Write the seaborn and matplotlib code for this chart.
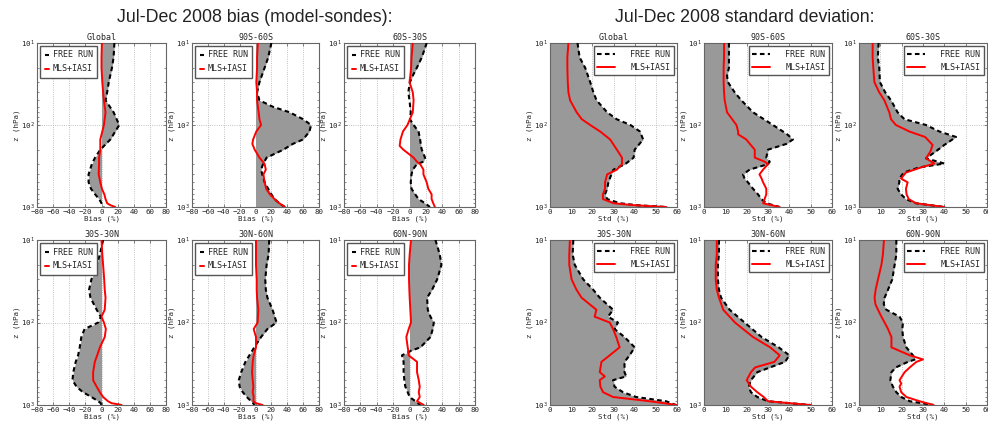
import numpy as np
import pandas as pd
import matplotlib
matplotlib.use("Agg")
import matplotlib.pyplot as plt
import seaborn as sns
from matplotlib.lines import Line2D

sns.set_style("ticks")
plt.rcParams['font.family'] = ['DejaVu Sans Mono']
plt.rcParams['mathtext.fontset'] = 'dejavusans'

# ---------------- DATA (pressure in hPa, values in %) ----------------
REGIONS = ["Global", "90S-60S", "60S-30S", "30S-30N", "30N-60N", "60N-90N"]

# Bias panels
P_BIAS_GLOBAL = [10, 15, 20, 30, 40, 50, 70, 100, 150, 200, 250, 300, 400, 500, 600, 700, 800, 900, 950, 1000]
FREE_BIAS_GLOBAL = [16, 15, 13, 9, 7, 5, 15, 22, 11, -1.5, -8, -12, -16, -16, -13, -8, -3, 0, 1, 3]
MLS_BIAS_GLOBAL = [0.5, 0, 0, 1, 2, 3, 5, 3, -1.5, -1.5, -3, -3, -3.5, -1.5, 0.5, 3.5, 5, 7, 11, 17]

P_BIAS_9060S = [10, 15, 20, 30, 40, 50, 60, 70, 85, 100, 120, 150, 170, 200, 250, 300, 350, 400, 500, 600, 700, 800, 900, 1000]
FREE_BIAS_9060S = [20, 16, 11.5, 5, 2, 5, 22, 43, 60, 70, 68, 60, 47, 35, 14, 9.5, 7, 8.5, 11.5, 16, 20, 24, 30, 37]
MLS_BIAS_9060S = [3, 2, 2, 1, 2, 2, 3, 4, 5, 7, 1, -3, -4, -1, 5, 11.5, 13, 10, 11.5, 13.5, 18, 24, 30, 37]

P_BIAS_6030S = [10, 15, 20, 25, 30, 40, 50, 70, 85, 100, 120, 150, 180, 200, 250, 280, 300, 350, 400, 500, 600, 700, 800, 900, 1000]
FREE_BIAS_6030S = [21, 15, 9, 4, 0.5, -1.5, 0, 1.5, 0.5, 5, 11, 13, 14, 15, 19, 17, 9, 4, 2.5, 1.5, 2.5, 7, 11, 19, 25]
MLS_BIAS_6030S = [4, 2.5, 2, 1, 0, 4, 5, 4, 0.5, -2.5, -8, -11, -12, -7.5, 5, 9, 13, 17, 17, 21, 23, 27, 27, 29, 31]

P_BIAS_3030 = [10, 15, 20, 30, 40, 50, 70, 85, 100, 120, 150, 200, 250, 300, 400, 500, 600, 700, 800, 900, 950, 1000]
FREE_BIAS_3030 = [2, -2, -6, -12.5, -15.4, -13.7, -6, -1, -4, -21, -25, -27, -29, -32, -35, -36, -31, -23, -12.5, -4, -1, 0]
MLS_BIAS_3030 = [0, 1, 2, 3.3, 4, 5, 4, 0, 3, 5.4, 4, -2, -5.4, -8.3, -10.4, -10.4, -6, -2, 2, 8, 12.5, 25]

P_BIAS_3060N = [10, 15, 20, 30, 40, 50, 70, 100, 120, 150, 200, 250, 300, 400, 500, 600, 700, 800, 900, 950, 1000]
FREE_BIAS_3060N = [17.3, 16.5, 14, 12.3, 13, 15, 21.5, 26.5, 15, 7, -1.5, -7.7, -12.7, -18, -21, -20, -16, -11, -5.6, -3, -1.5]
MLS_BIAS_3060N = [0.6, 0.6, 0.6, 1.5, 1.5, 2, 3.5, 2.7, -2.3, 0.6, 0.6, -2.3, -3.5, -4.4, -3.5, -2.7, -3.5, -2.3, -2.7, 0.6, 9]

P_BIAS_6090N = [10, 15, 20, 30, 40, 50, 70, 85, 100, 120, 150, 200, 220, 250, 300, 400, 500, 600, 700, 800, 900, 1000]
FREE_BIAS_6090N = [31.7, 37, 39, 33.8, 27.6, 21.5, 22.3, 25.6, 29.7, 28.4, 25.6, 13.3, 1.8, -9.2, -7.2, -7.2, -6.3, -5.1, -2.2, 0.2, 7.2, 13.3]
MLS_BIAS_6090N = [1.8, 0.2, -0.6, -0.6, -0.2, 0.2, 1, 1.5, 1.8, -1, -3.9, -2.2, -1.5, -1, 9.2, 9.2, 11.3, 12.5, 11.3, 12.5, 9.2, 17.4]

# Standard deviation panels
P_STD_GLOBAL = [10, 15, 20, 30, 40, 50, 70, 85, 100, 120, 150, 200, 250, 300, 350, 400, 500, 600, 700, 800, 900, 950, 1000]
FREE_STD_GLOBAL = [13, 14, 16.6, 19, 20.5, 22, 27, 31.5, 38, 42.5, 44, 40, 39.5, 35.5, 30, 29, 27.6, 27, 26, 27, 33, 41, 55]
MLS_STD_GLOBAL = [8.7, 8.2, 8.2, 8.4, 8.7, 9.5, 12.6, 15, 19, 23.7, 28.4, 31.6, 34, 34, 31.6, 27, 26, 26, 25, 25, 30, 39.5, 55]

P_STD_9060S = [10, 15, 20, 25, 30, 40, 50, 70, 100, 120, 130, 150, 170, 200, 250, 280, 300, 350, 400, 450, 500, 600, 700, 800, 900, 1000]
FREE_STD_9060S = [11.7, 11.7, 11.7, 10.8, 11.2, 14.4, 17.5, 23, 32.3, 37, 39, 41.7, 38.6, 30, 29.2, 30.8, 30, 21.4, 18.3, 19, 20.6, 23, 25.3, 26.9, 29.2, 35.5]
MLS_STD_9060S = [9.4, 9.4, 9.2, 9.2, 9.2, 9.4, 9.7, 10.8, 15.2, 16, 16, 19.8, 21.5, 23.8, 23.8, 28.4, 30, 27.7, 26, 27, 27.7, 29.2, 29.2, 28.4, 27.7, 35.5]

P_STD_6030S = [10, 15, 20, 30, 40, 50, 70, 85, 100, 120, 140, 175, 210, 255, 295, 330, 380, 450, 500, 600, 700, 800, 900, 1000]
FREE_STD_6030S = [9.2, 8.8, 9.5, 9.8, 12.3, 15, 18.1, 21.3, 31.4, 37.7, 45.5, 40, 36, 31.4, 40, 28, 21, 18.9, 18.9, 18.1, 19.7, 22, 26.7, 40]
MLS_STD_6030S = [6.4, 6.4, 6.7, 7.2, 9.5, 11.9, 14.2, 15, 17.3, 23.6, 31, 34.5, 33.5, 31.4, 35.3, 29, 22, 19.7, 22.8, 22, 22.3, 23.3, 26.7, 40]

P_STD_3030 = [10, 15, 20, 30, 40, 50, 70, 85, 100, 120, 150, 200, 250, 300, 400, 450, 500, 600, 700, 800, 900, 1000]
FREE_STD_3030 = [11, 10.7, 11.7, 15.7, 20.4, 23.5, 29.8, 27.4, 32.1, 30.5, 35.2, 40, 37.6, 35.2, 35.2, 36, 29.8, 30.5, 34.5, 40.7, 54.8, 59.5]
MLS_STD_3030 = [9.4, 9.1, 9.1, 10.2, 12.5, 14.9, 21.9, 21.1, 28.2, 29.8, 31.3, 32.9, 28.2, 24.3, 23.5, 25.9, 23.5, 23.8, 25.1, 29.8, 47, 60]

P_STD_3060N = [10, 15, 20, 30, 40, 50, 70, 100, 150, 200, 250, 300, 350, 400, 500, 600, 700, 800, 900, 1000]
FREE_STD_3060N = [7, 7, 6.5, 6.5, 7, 8, 12, 19, 27, 35, 40, 38, 31, 25, 22, 21, 22, 25, 30, 50]
MLS_STD_3060N = [6, 6, 5.5, 5.5, 6, 7, 9, 14.5, 23, 31, 35.5, 33, 24, 22, 20, 22, 25, 28, 30, 50]

P_STD_6090N = [10, 15, 20, 30, 40, 50, 60, 70, 85, 100, 120, 150, 200, 250, 280, 300, 350, 400, 500, 550, 600, 700, 800, 900, 1000]
FREE_STD_6090N = [17.5, 17.5, 16.7, 15.6, 13.6, 12, 11.6, 12.8, 19, 20.6, 20.3, 20.6, 22.2, 25.3, 26.4, 22.9, 17.3, 15.2, 14.7, 15.3, 15.9, 17.5, 19.8, 23.8, 35]
MLS_STD_6090N = [11.7, 11.2, 10.5, 8.9, 7.8, 7.3, 7.7, 8.9, 10.5, 12, 13.6, 15.2, 15.2, 23.8, 30, 26.9, 23.8, 21.4, 19, 19.8, 19, 19.8, 22.2, 28.4, 35]

BIAS_TICKS = [-80, -60, -40, -20, 0, 20, 40, 60, 80]
STD_TICKS = [0, 10, 20, 30, 40, 50, 60]

BIAS_DATA = [
    (P_BIAS_GLOBAL, FREE_BIAS_GLOBAL, MLS_BIAS_GLOBAL),
    (P_BIAS_9060S, FREE_BIAS_9060S, MLS_BIAS_9060S),
    (P_BIAS_6030S, FREE_BIAS_6030S, MLS_BIAS_6030S),
    (P_BIAS_3030, FREE_BIAS_3030, MLS_BIAS_3030),
    (P_BIAS_3060N, FREE_BIAS_3060N, MLS_BIAS_3060N),
    (P_BIAS_6090N, FREE_BIAS_6090N, MLS_BIAS_6090N),
]
STD_DATA = [
    (P_STD_GLOBAL, FREE_STD_GLOBAL, MLS_STD_GLOBAL),
    (P_STD_9060S, FREE_STD_9060S, MLS_STD_9060S),
    (P_STD_6030S, FREE_STD_6030S, MLS_STD_6030S),
    (P_STD_3030, FREE_STD_3030, MLS_STD_3030),
    (P_STD_3060N, FREE_STD_3060N, MLS_STD_3060N),
    (P_STD_6090N, FREE_STD_6090N, MLS_STD_6090N),
]

# ---------------- LAYOUT ----------------
W, H = 988, 422
fig = plt.figure(figsize=(W / 100, H / 100), dpi=100)

BIAS_X = [(37, 166), (192, 319), (344, 475)]
STD_X = [(550, 677), (704, 832), (859, 987)]
ROWS_Y = [(43, 207), (240, 405)]

GRAY = "#999999"
FS = 5.4


def make_ax(x0, x1, y0, y1):
    return fig.add_axes([x0 / W, 1 - y1 / H, (x1 - x0) / W, (y1 - y0) / H])


def draw_panel(ax, p, free, mls, kind, title):
    df = pd.DataFrame({"p": p, "FREE RUN": free, "MLS+IASI": mls})
    ax.fill_betweenx(df["p"], 0, df["FREE RUN"], color=GRAY, lw=0, zorder=1)
    sns.lineplot(data=df, x="FREE RUN", y="p", orient="y", sort=False, ax=ax,
                 color="black", lw=1.5, linestyle=(0, (2.2, 1.6)), zorder=3)
    sns.lineplot(data=df, x="MLS+IASI", y="p", orient="y", sort=False, ax=ax,
                 color="red", lw=1.4, zorder=4)
    ax.set_yscale("log")
    ax.set_ylim(1000, 10)
    if kind == "bias":
        ax.set_xlim(-80, 80)
        ax.set_xticks(BIAS_TICKS)
        ax.set_xlabel("Bias (%)", fontsize=FS, labelpad=0.3)
    else:
        ax.set_xlim(0, 60)
        ax.set_xticks(STD_TICKS)
        ax.set_xlabel("Std (%)", fontsize=FS, labelpad=0.3)
    ax.set_ylabel("z (hPa)", fontsize=FS, labelpad=1)
    ax.set_title(title, fontsize=FS + 0.6, pad=2)
    ax.set_axisbelow(True)
    ax.grid(True, which="major", color="#b0b0b0", linestyle=":", lw=0.6)
    ax.tick_params(axis="both", which="both", direction="in", labelsize=FS,
                   top=True, right=True, pad=1.2, length=2.5, width=0.5, color="#555555")
    ax.tick_params(axis="y", which="minor", length=1.5)
    for s in ax.spines.values():
        s.set_color("#666666")
        s.set_linewidth(0.8)
    handles = [Line2D([], [], color="black", lw=1.5, linestyle=(0, (2.2, 1.6))),
               Line2D([], [], color="red", lw=1.4)]
    if kind == "bias":
        ax.legend(handles, ["FREE RUN", "MLS+IASI"], loc="upper left", fontsize=FS + 0.6,
                  handlelength=0.5, handletextpad=0.5, borderpad=0.5, labelspacing=0.6,
                  fancybox=False, framealpha=1, edgecolor="#555555", borderaxespad=0.4)
    else:
        ax.legend(handles, ["FREE RUN", "MLS+IASI"], loc="upper right", fontsize=FS + 0.6,
                  handlelength=2.2, handletextpad=1.8, borderpad=0.4, labelspacing=0.5,
                  fancybox=False, framealpha=1, edgecolor="#555555", borderaxespad=0.4)


for r in range(2):
    y0, y1 = ROWS_Y[r]
    for c in range(3):
        i = r * 3 + c
        ax = make_ax(*BIAS_X[c], y0, y1)
        draw_panel(ax, *BIAS_DATA[i], "bias", REGIONS[i])
        ax = make_ax(*STD_X[c], y0, y1)
        draw_panel(ax, *STD_DATA[i], "std", REGIONS[i])

fig.text(255 / W, 1 - 17 / H, "Jul-Dec 2008 bias (model-sondes):", ha="center", va="center",
         fontsize=12.8, family="Liberation Sans", color="#222222")
fig.text(745 / W, 1 - 17 / H, "Jul-Dec 2008 standard deviation:", ha="center", va="center",
         fontsize=12.8, family="Liberation Sans", color="#222222")

fig.savefig("out.png", dpi=100)
